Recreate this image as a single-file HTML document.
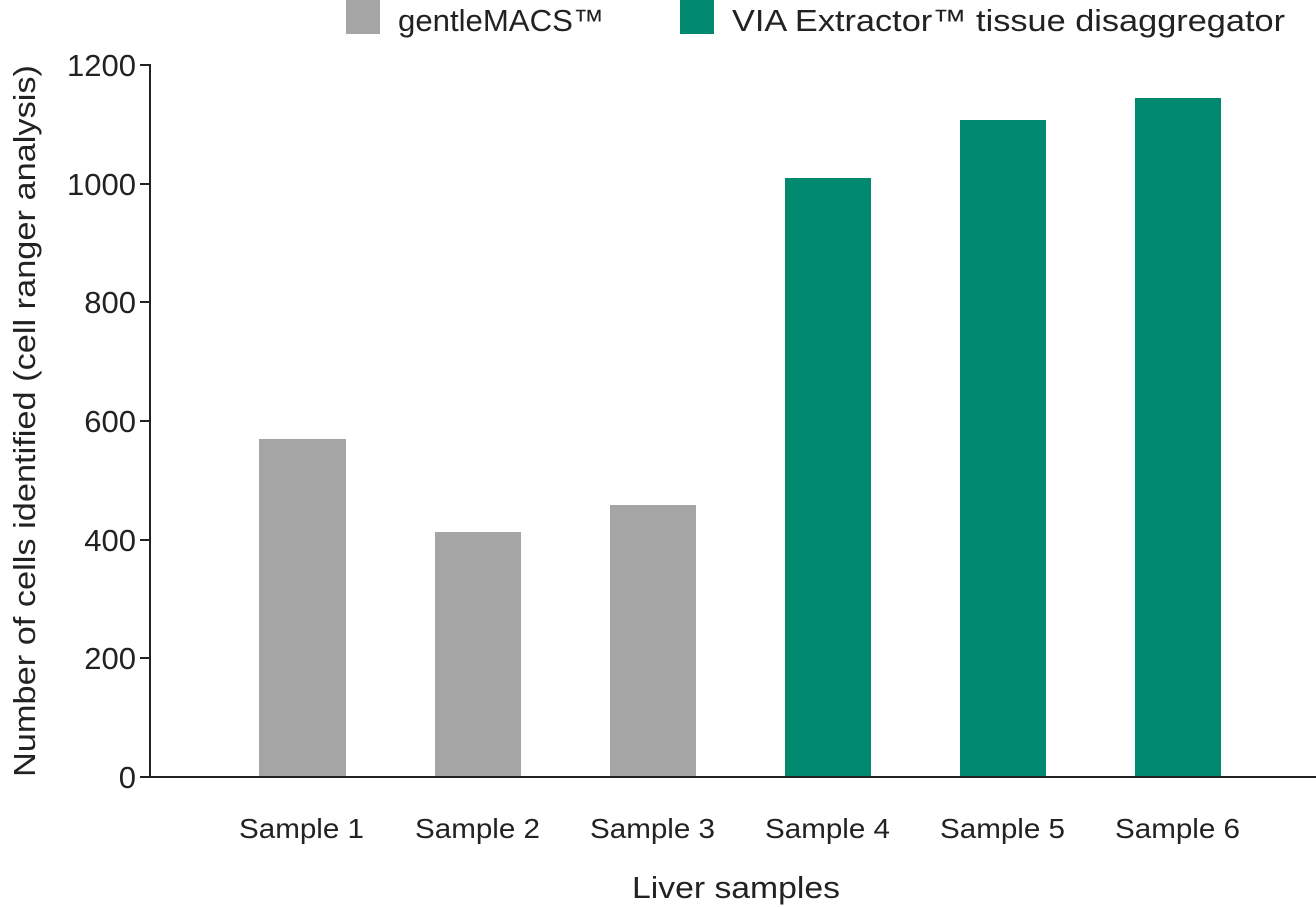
<!DOCTYPE html>
<html><head><meta charset="utf-8"><style>
html,body{margin:0;padding:0;background:#fff;}
svg{display:block;font-family:"Liberation Sans",sans-serif;}
</style></head><body>
<svg width="1316" height="907" viewBox="0 0 1316 907" xmlns="http://www.w3.org/2000/svg">
<rect x="346" y="0" width="34" height="34" fill="#a5a5a6"/>
<text x="398" y="31" font-size="31" fill="#222" textLength="206" lengthAdjust="spacingAndGlyphs">gentleMACS™</text>
<rect x="680" y="0" width="34" height="34" fill="#00896f"/>
<text x="732" y="31" font-size="31" fill="#222" textLength="553" lengthAdjust="spacingAndGlyphs">VIA Extractor™ tissue disaggregator</text>
<g fill="#a5a5a6">
<rect x="259" y="439" width="87" height="338"/>
<rect x="435" y="532" width="86" height="245"/>
<rect x="610" y="505" width="86" height="272"/>
</g>
<g fill="#00896f">
<rect x="785" y="178" width="86" height="599"/>
<rect x="960" y="120" width="86" height="657"/>
<rect x="1135" y="98" width="86" height="679"/>
</g>
<g stroke="#222" stroke-width="2" fill="none">
<line x1="150" y1="64" x2="150" y2="778"/>
<line x1="149" y1="777" x2="1316" y2="777"/>
<line x1="140" y1="65" x2="150" y2="65"/>
<line x1="140" y1="184" x2="150" y2="184"/>
<line x1="140" y1="302" x2="150" y2="302"/>
<line x1="140" y1="421" x2="150" y2="421"/>
<line x1="140" y1="540" x2="150" y2="540"/>
<line x1="140" y1="658" x2="150" y2="658"/>
<line x1="140" y1="777" x2="150" y2="777"/>
</g>
<g font-size="31" fill="#222" text-anchor="end">
<text x="136" y="76">1200</text>
<text x="136" y="195">1000</text>
<text x="136" y="313">800</text>
<text x="136" y="432">600</text>
<text x="136" y="551">400</text>
<text x="136" y="669">200</text>
<text x="136" y="788">0</text>
</g>
<g font-size="28" fill="#222">
<text x="239" y="838" textLength="125" lengthAdjust="spacingAndGlyphs">Sample 1</text>
<text x="415" y="838" textLength="125" lengthAdjust="spacingAndGlyphs">Sample 2</text>
<text x="590" y="838" textLength="125" lengthAdjust="spacingAndGlyphs">Sample 3</text>
<text x="765" y="838" textLength="125" lengthAdjust="spacingAndGlyphs">Sample 4</text>
<text x="940" y="838" textLength="125" lengthAdjust="spacingAndGlyphs">Sample 5</text>
<text x="1115" y="838" textLength="125" lengthAdjust="spacingAndGlyphs">Sample 6</text>
</g>
<text x="632" y="898" font-size="31" fill="#222" textLength="208" lengthAdjust="spacingAndGlyphs">Liver samples</text>
<text transform="translate(35,777) rotate(-90)" font-size="31" fill="#222" textLength="712" lengthAdjust="spacingAndGlyphs">Number of cells identified (cell ranger analysis)</text>
</svg>
</body></html>
